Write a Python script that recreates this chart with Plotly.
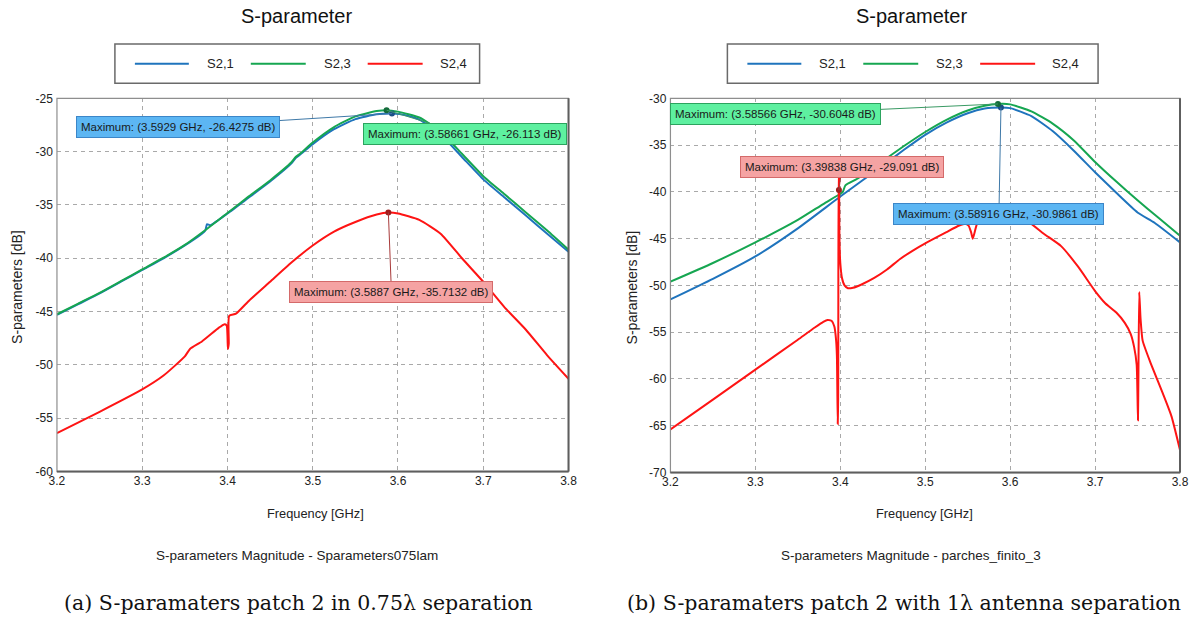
import plotly.graph_objects as go

W, H = 1194, 617
# the page shows the figure inset by 8px and reduced to (W-16) x (H-16);
# layout positions below are given in final page pixels and mapped back here
INSET = 8
SX, SY = (W - 2 * INSET) / W, (H - 2 * INSET) / H

# ---------------- series data ----------------
series_names = ["S2,1", "S2,3", "S2,4"]

# Panel (a): 0.75 lambda separation
fa_s21 = [3.200, 3.225, 3.250, 3.275, 3.300, 3.325, 3.350, 3.370, 3.374, 3.376, 3.380,
          3.400, 3.425, 3.450, 3.475, 3.480, 3.485, 3.500, 3.525, 3.550, 3.575, 3.5929,
          3.610, 3.625, 3.650, 3.675, 3.700, 3.725, 3.750, 3.775, 3.800]
db_a_s21 = [-45.3, -44.3, -43.3, -42.2, -41.1, -40.0, -38.8, -37.7, -37.4, -36.8, -36.9,
            -35.8, -34.3, -32.8, -31.1, -30.6, -30.3, -29.3, -27.9, -26.95, -26.5, -26.4275,
            -26.6, -27.0, -28.4, -30.5, -32.6, -34.3, -36.0, -37.7, -39.4]

fa_s23 = [3.200, 3.225, 3.250, 3.275, 3.300, 3.325, 3.350, 3.375, 3.400, 3.425, 3.450,
          3.475, 3.480, 3.485, 3.500, 3.525, 3.550, 3.575, 3.58661, 3.600, 3.625, 3.650,
          3.675, 3.700, 3.725, 3.750, 3.775, 3.800]
db_a_s23 = [-45.25, -44.25, -43.25, -42.15, -41.05, -39.95, -38.75, -37.3, -35.75, -34.2, -32.7,
            -31.0, -30.5, -30.2, -29.15, -27.7, -26.7, -26.2, -26.113, -26.25, -26.8, -28.1,
            -30.2, -32.3, -34.0, -35.7, -37.4, -39.2]

fa_s24 = [3.200, 3.250, 3.300, 3.325, 3.350, 3.356, 3.370, 3.390, 3.396, 3.399, 3.4005,
          3.4015, 3.402, 3.410, 3.425, 3.450, 3.475, 3.500, 3.525, 3.550, 3.575, 3.5887,
          3.600, 3.625, 3.650, 3.675, 3.700, 3.725, 3.750, 3.775, 3.800]
db_a_s24 = [-56.4, -54.4, -52.3, -51.0, -49.2, -48.5, -47.8, -46.5, -46.2, -46.3, -48.5,
            -48.0, -45.4, -45.2, -44.0, -42.2, -40.4, -38.8, -37.5, -36.6, -35.9, -35.7132,
            -35.8, -36.4, -37.7, -40.0, -42.2, -44.6, -46.7, -49.1, -51.3]

# Panel (b): 1 lambda separation
fb_s21 = [3.200, 3.250, 3.300, 3.350, 3.400, 3.450, 3.475, 3.500, 3.525, 3.550, 3.570,
          3.58916, 3.600, 3.625, 3.650, 3.675, 3.700, 3.725, 3.750, 3.770, 3.800]
db_b_s21 = [-51.5, -49.3, -46.9, -43.9, -40.5, -37.2, -35.5, -33.9, -32.6, -31.6, -31.1,
            -30.9861, -31.05, -31.9, -33.5, -35.6, -37.9, -40.1, -42.2, -43.3, -45.4]

fb_s23 = [3.200, 3.250, 3.300, 3.350, 3.380, 3.400, 3.403, 3.406, 3.420, 3.450, 3.475,
          3.500, 3.525, 3.550, 3.570, 3.58566, 3.600, 3.625, 3.650, 3.675, 3.700, 3.725,
          3.750, 3.775, 3.800]
db_b_s23 = [-49.6, -47.6, -45.4, -43.0, -41.3, -40.2, -40.0, -39.3, -38.6, -36.7, -35.1,
            -33.6, -32.3, -31.3, -30.8, -30.6048, -30.65, -31.4, -32.7, -34.5, -36.8, -38.9,
            -40.9, -42.8, -44.7]

fb_s24 = [3.200, 3.250, 3.300, 3.350, 3.370, 3.380, 3.385, 3.390, 3.393, 3.395, 3.396,
          3.397, 3.3975, 3.398, 3.3985, 3.399, 3.400, 3.402, 3.405, 3.409, 3.415, 3.425,
          3.440, 3.455, 3.470, 3.485, 3.500, 3.525, 3.540, 3.547, 3.551, 3.554, 3.556,
          3.558, 3.561, 3.568, 3.580, 3.600, 3.620, 3.640, 3.660, 3.680, 3.700, 3.712,
          3.725, 3.735, 3.742, 3.746, 3.749, 3.7505, 3.751, 3.752, 3.7535, 3.756, 3.765,
          3.780, 3.790, 3.800]
db_b_s24 = [-65.4, -62.2, -59.0, -55.8, -54.5, -53.9, -53.7, -53.8, -54.4, -55.8, -57.5,
            -64.8, -62.0, -37.0, -38.5, -45.0, -47.6, -49.2, -50.0, -50.3, -50.25, -49.9,
            -49.2, -48.3, -47.2, -46.3, -45.5, -44.3, -43.6, -43.4, -43.6, -44.3, -45.0,
            -44.4, -43.4, -42.7, -42.3, -42.3, -43.1, -44.5, -45.8, -48.0, -50.6, -51.9,
            -52.9, -54.0, -55.2, -56.6, -58.5, -64.4, -60.0, -50.7, -53.5, -55.9, -58.2,
            -61.6, -64.0, -67.6]

# Maximum readouts (frequency GHz, level dB) shown in the marker boxes
max_a = [(3.5929, -26.4275), (3.58661, -26.113), (3.5887, -35.7132)]
max_b = [(3.58916, -30.9861), (3.58566, -30.6048), (3.39838, -29.091)]
# level at which the S2,4 marker sits on the drawn (decimated) panel-(b) trace
marker_b_s24_db = -39.8

# Axis ticks
x_ticks = [3.2, 3.3, 3.4, 3.5, 3.6, 3.7, 3.8]
x_tick_text = ["3.2", "3.3", "3.4", "3.5", "3.6", "3.7", "3.8"]
ya_ticks = [-25, -30, -35, -40, -45, -50, -55, -60]
yb_ticks = [-30, -35, -40, -45, -50, -55, -60, -65, -70]

# ---------------- styling ----------------
line_colors = ["#1f74bd", "#16a651", "#fe1414"]
marker_colors = ["#1b4f86", "#146b3a", "#9e1d1d"]
box_bg = ["#5cb6f3", "#5ef0a0", "#f5a3a3"]
box_border = ["#3c86c8", "#2ca35e", "#d46a6a"]
arrow_colors = ["#3f79a8", "#3a9a64", "#a83a3a"]
SANS = "Liberation Sans, Arial, sans-serif"


def px_x(p):
    """page pixel column -> paper x"""
    return (p - INSET) / (W - 2 * INSET)


def px_y(p):
    """page pixel row -> paper y"""
    return 1 - (p - INSET) / (H - 2 * INSET)


fig = go.Figure()

panels = [
    dict(xa="x", ya="y", data=[(fa_s21, db_a_s21), (fa_s23, db_a_s23), (fa_s24, db_a_s24)]),
    dict(xa="x2", ya="y2", data=[(fb_s21, db_b_s21), (fb_s23, db_b_s23), (fb_s24, db_b_s24)]),
]

for panel in panels:
    for i, (f, d) in enumerate(panel["data"]):
        fig.add_trace(go.Scatter(
            x=f, y=d, mode="lines", name=series_names[i], showlegend=False,
            line=dict(color=line_colors[i], width=2, shape="spline", smoothing=0.5),
            xaxis=panel["xa"], yaxis=panel["ya"], hoverinfo="skip"))

# marker dots at the maxima
marker_pts_a = [(f, v) for f, v in max_a]
marker_pts_b = [max_b[0], max_b[1], (max_b[2][0], marker_b_s24_db)]
for pts, xa, ya in [(marker_pts_a, "x", "y"), (marker_pts_b, "x2", "y2")]:
    for i, (f, v) in enumerate(pts):
        fig.add_trace(go.Scatter(
            x=[f], y=[v], mode="markers", showlegend=False, hoverinfo="skip",
            marker=dict(color=marker_colors[i], size=6),
            xaxis=xa, yaxis=ya))

grid = dict(showgrid=True, gridcolor="#a9a9a9", griddash="4px,4px", gridwidth=1,
            zeroline=False, showline=False, ticks="",
            tickfont=dict(family=SANS, size=12, color="#222222"))

fig.update_layout(
    width=W, height=H, autosize=False,
    margin=dict(l=0, r=0, t=0, b=0, pad=0),
    paper_bgcolor="white", plot_bgcolor="white",
    xaxis=dict(domain=[px_x(57), px_x(569)], range=[3.2, 3.8], anchor="y",
               tickvals=x_ticks, ticktext=x_tick_text, **grid),
    yaxis=dict(domain=[px_y(471), px_y(99)], range=[-60, -25], anchor="x",
               tickvals=ya_ticks, ticktext=[str(v) for v in ya_ticks],
               ticklabelstandoff=3, **grid),
    xaxis2=dict(domain=[px_x(671), px_x(1181)], range=[3.2, 3.8], anchor="y2",
                tickvals=x_ticks, ticktext=x_tick_text, **grid),
    yaxis2=dict(domain=[px_y(472), px_y(99)], range=[-70, -30], anchor="x2",
                tickvals=yb_ticks, ticktext=[str(v) for v in yb_ticks],
                ticklabelstandoff=3, **grid),
)

shapes = []
annotations = []

# plot frames: light top/left edges, heavier right/bottom edges
for xa, ya in [("x", "y"), ("x2", "y2")]:
    xr, yr = xa + " domain", ya + " domain"
    shapes.append(dict(type="rect", xref=xr, yref=yr, x0=0, x1=1, y0=0, y1=1,
                       line=dict(color="#8e8e8e", width=1.2)))
    shapes.append(dict(type="line", xref=xr, yref=yr, x0=1, x1=1, y0=0, y1=1,
                       line=dict(color="#5e5e5e", width=2)))
    shapes.append(dict(type="line", xref=xr, yref=yr, x0=0, x1=1, y0=0, y1=0,
                       line=dict(color="#5e5e5e", width=2)))

# per-panel texts and legends
panel_layout = [
    dict(title_cx=297, plot_cx=316, legend_x0=115, legend_x1=480, shift=0, ytitle_x=17,
         subtitle="S-parameters Magnitude - Sparameters075lam",
         caption="(a) S-paramaters patch 2 in 0.75\u03bb separation", caption_cx=299),
    dict(title_cx=912, plot_cx=925, legend_x0=728, legend_x1=1099, shift=613, ytitle_x=632,
         subtitle="S-parameters Magnitude - parches_finito_3",
         caption="(b) S-paramaters patch 2 with 1\u03bb antenna separation", caption_cx=905),
]

legend_line_x = [(135, 189), (251, 306), (368, 423)]
legend_text_x = [205, 322, 438]

for pl in panel_layout:
    annotations.append(dict(text="S-parameter", x=px_x(pl["title_cx"]), y=px_y(17),
                            xref="paper", yref="paper", showarrow=False,
                            xanchor="center", yanchor="middle",
                            font=dict(family=SANS, size=20, color="#111111")))
    shapes.append(dict(type="rect", xref="paper", yref="paper",
                       x0=px_x(pl["legend_x0"]), x1=px_x(pl["legend_x1"]),
                       y0=px_y(84), y1=px_y(45),
                       line=dict(color="#6a6a6a", width=1.5), fillcolor="white"))
    for i in range(3):
        a, b = legend_line_x[i]
        shapes.append(dict(type="line", xref="paper", yref="paper",
                           x0=px_x(a + pl["shift"]), x1=px_x(b + pl["shift"]),
                           y0=px_y(64.5), y1=px_y(64.5),
                           line=dict(color=line_colors[i], width=2)))
        annotations.append(dict(text=series_names[i], x=px_x(legend_text_x[i] + pl["shift"]),
                                y=px_y(64.5), xref="paper", yref="paper", showarrow=False,
                                xanchor="left", yanchor="middle",
                                font=dict(family=SANS, size=13, color="#222222")))
    annotations.append(dict(text="S-parameters [dB]", x=px_x(pl["ytitle_x"]), y=px_y(287),
                            xref="paper", yref="paper", showarrow=False, textangle=-90,
                            xanchor="center", yanchor="middle",
                            font=dict(family=SANS, size=14, color="#222222")))
    annotations.append(dict(text="Frequency [GHz]", x=px_x(pl["plot_cx"]), y=px_y(513),
                            xref="paper", yref="paper", showarrow=False,
                            xanchor="center", yanchor="middle",
                            font=dict(family=SANS, size=12.8, color="#222222")))
    annotations.append(dict(text=pl["subtitle"], x=px_x(pl["title_cx"]), y=px_y(555),
                            xref="paper", yref="paper", showarrow=False,
                            xanchor="center", yanchor="middle",
                            font=dict(family=SANS, size=13.5, color="#222222")))
    annotations.append(dict(text=pl["caption"], x=px_x(pl["caption_cx"]), y=px_y(602),
                            xref="paper", yref="paper", showarrow=False,
                            xanchor="center", yanchor="middle",
                            font=dict(family="DejaVu Serif, serif", size=20.5, color="#111111")))

# maximum readout boxes: page-pixel offset of each box centre from its marker
readouts = [
    ("x", "y", marker_pts_a, max_a, [(-211, 13), (77, 23), (3, 77)]),
    ("x2", "y2", marker_pts_b, max_b, [(-2, 104), (-219, 10), (3, -22)]),
]
for xa, ya, pts, vals, offs in readouts:
    for i in range(3):
        f, v = vals[i]
        px, py = pts[i]
        annotations.append(dict(
            text=f"Maximum: ({f} GHz, {v} dB)", x=px, y=py, xref=xa, yref=ya,
            showarrow=True, arrowhead=0, arrowwidth=1, arrowcolor=arrow_colors[i],
            ax=offs[i][0] / SX, ay=offs[i][1] / SY, standoff=0,
            bgcolor=box_bg[i], bordercolor=box_border[i], borderwidth=1, borderpad=4,
            font=dict(family=SANS, size=11.5, color="#1a1a1a")))

fig.update_layout(shapes=shapes, annotations=annotations)

fig.write_html("out.html")
